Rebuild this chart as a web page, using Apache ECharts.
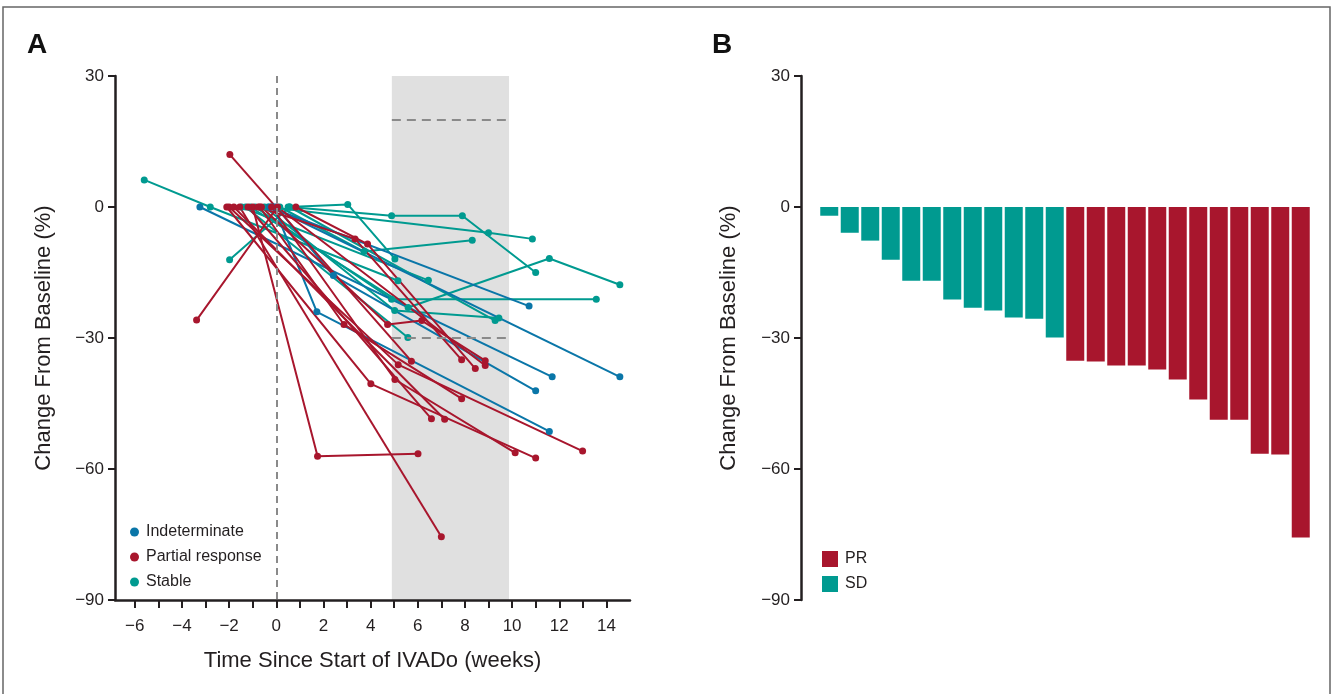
<!DOCTYPE html>
<html>
<head>
<meta charset="utf-8">
<script src="https://cdn.jsdelivr.net/npm/echarts@6.0.0/dist/echarts.min.js"></script>
<style>
html,body{margin:0;padding:0;background:#fff;}
#chart{width:1334px;height:694px;}
</style>
</head>
<body>
<div id="chart"></div>
<script>
// ---------- DATA ----------
// Panel A: each patient is a list of [week, % change from baseline]
const indeterminatePatients = [
  [[-3.24, 0], [11.7, -38.9]],
  [[-0.1, 0], [1.72, -24.0], [11.58, -51.4]],
  [[-0.3, 0], [10.72, -22.7]],
  [[-0.2, 0], [14.57, -38.9]],
  [[0.0, 0], [2.42, -15.7], [11.0, -42.1]]
];
const partialResponsePatients = [
  [[-1.0, 0], [1.75, -57.1], [6.01, -56.5]],
  [[-1.97, 12], [5.73, -35.3]],
  [[-1.55, 0], [7.0, -75.5]],
  [[-3.38, -25.9], [0.05, 0], [8.86, -36.3]],
  [[-0.7, 0], [2.87, -26.9], [7.86, -43.9]],
  [[-2.1, 0], [4.01, -40.5], [11.0, -57.5]],
  [[-0.2, 0], [5.03, -39.5], [10.13, -56.3]],
  [[-2.0, 0], [5.17, -36.1], [12.99, -55.9]],
  [[-0.77, 0], [3.34, -7.3], [7.86, -35.0]],
  [[0.83, 0], [3.87, -8.5], [8.44, -37.0]],
  [[-0.63, 0], [4.72, -26.9], [6.17, -26.0], [8.86, -35.2]],
  [[-1.2, 0], [6.58, -48.5]],
  [[-1.8, 0], [7.14, -48.6]]
];
const stablePatients = [
  [[-5.6, 6.2], [-2.8, 0], [5.16, -16.9]],
  [[-1.98, -12.1], [0.57, 0], [9.28, -26.0]],
  [[0.5, 0], [3.03, 0.6], [5.03, -11.9]],
  [[0.57, 0], [4.89, -2.0], [7.89, -2.0], [11.0, -15.0]],
  [[-0.35, 0], [9.0, -5.9], [10.86, -7.3]],
  [[0.15, 0], [3.72, -10.2], [8.31, -7.6]],
  [[-1.1, 0], [5.59, -23.0], [11.58, -11.8], [14.57, -17.8]],
  [[-0.9, 0], [4.89, -21.1], [13.57, -21.1]],
  [[-1.47, 0], [6.45, -16.8]],
  [[-0.5, 0], [5.02, -23.7], [9.44, -25.4]],
  [[-1.3, 0], [5.58, -29.9]]
];
const windowWeeks = [4.9, 9.87];        // shaded evaluation window
const thresholdLines = [20, -30];        // dashed reference levels
const xTickValues = [-6,-5,-4,-3,-2,-1,0,1,2,3,4,5,6,7,8,9,10,11,12,13,14];
const xLabelValues = [-6,-4,-2,0,2,4,6,8,10,12,14];

// Panel B: best response waterfall
const barCategories = ['1','2','3','4','5','6','7','8','9','10','11','12','13','14','15','16','17','18','19','20','21','22','23','24'];
const sdValues = [-2.0,-5.9,-7.7,-12.1,-16.9,-16.9,-21.2,-23.1,-23.7,-25.3,-25.6,-29.9,'-','-','-','-','-','-','-','-','-','-','-','-'];
const prValues = ['-','-','-','-','-','-','-','-','-','-','-','-',-35.2,-35.4,-36.3,-36.3,-37.2,-39.5,-44.1,-48.7,-48.7,-56.5,-56.7,-75.7];

// ---------- STYLE ----------
const BLUE = '#0a76a8', RED = '#a8162d', TEAL = '#009a90';
const INK = '#231f20';
const FONT = '"Liberation Sans", Arial, sans-serif';
const fmt = v => (v < 0 ? '\u2212' + Math.abs(v) : String(v));

const series = [];
// helper series for shaded window and dashed lines
series.push({
  type: 'line', xAxisIndex: 0, yAxisIndex: 0, data: [], silent: true, z: -1,
  markArea: {
    silent: true,
    itemStyle: { color: '#e0e0e0' },
    data: [[{ coord: [windowWeeks[0], 30] }, { coord: [windowWeeks[1], -90] }]]
  },
  markLine: {
    silent: true, symbol: 'none',
    label: { show: false },
    data: [
      [{ coord: [0, 30], lineStyle: { type: [7, 5], color: '#8a8a8a', width: 2 } }, { coord: [0, -90] }],
      [{ coord: [windowWeeks[0], thresholdLines[0]], lineStyle: { type: [9, 6], color: '#8a8a8a', width: 2 } }, { coord: [windowWeeks[1] - 0.1, thresholdLines[0]] }],
      [{ coord: [windowWeeks[0], thresholdLines[1]], lineStyle: { type: [9, 6], color: '#8a8a8a', width: 2 } }, { coord: [windowWeeks[1] - 0.1, thresholdLines[1]] }]
    ]
  }
});
function addGroup(list, name, color) {
  list.forEach(p => series.push({
    type: 'line', name: name, xAxisIndex: 0, yAxisIndex: 0, data: p,
    symbol: 'circle', symbolSize: 7, showSymbol: true,
    lineStyle: { color: color, width: 2 }, itemStyle: { color: color },
    emphasis: { disabled: true }, z: 3, animation: false
  }));
}
addGroup(stablePatients, 'Stable', TEAL);
addGroup(indeterminatePatients, 'Indeterminate', BLUE);
addGroup(partialResponsePatients, 'Partial response', RED);

series.push({
  type: 'bar', name: 'SD', xAxisIndex: 1, yAxisIndex: 1, stack: 'w', data: sdValues,
  barWidth: 18, itemStyle: { color: TEAL }, animation: false
});
series.push({
  type: 'bar', name: 'PR', xAxisIndex: 1, yAxisIndex: 1, stack: 'w', data: prValues,
  barWidth: 18, itemStyle: { color: RED }, animation: false
});

const yAxisCommon = {
  type: 'value', min: -90, max: 30, interval: 30,
  axisLine: { show: true, onZero: false, lineStyle: { color: INK, width: 2.5 } },
  axisTick: { show: true, inside: false, length: 7, lineStyle: { color: INK, width: 2 } },
  axisLabel: { formatter: fmt, color: INK, fontSize: 17, fontFamily: FONT, margin: 11 },
  splitLine: { show: false },
  name: 'Change From Baseline (%)', nameLocation: 'middle',
  nameTextStyle: { fontSize: 22, color: INK, fontFamily: FONT }
};

const option = {
  animation: false,
  backgroundColor: '#fff',
  title: [
    { text: 'A', left: 22, top: 26, textStyle: { fontSize: 28, fontWeight: 'bold', color: '#111', fontFamily: FONT } },
    { text: 'B', left: 707, top: 26, textStyle: { fontSize: 28, fontWeight: 'bold', color: '#111', fontFamily: FONT } }
  ],
  graphic: [
    { type: 'rect', shape: { x: 3, y: 7, width: 1327, height: 700 }, style: { fill: 'none', stroke: '#666', lineWidth: 1.5 }, silent: true, z: -10 }
  ],
  legend: [
    {
      data: ['Indeterminate', 'Partial response', 'Stable'],
      orient: 'vertical', left: 125, top: 519, itemGap: 9,
      icon: 'circle', itemWidth: 9, itemHeight: 9,
      textStyle: { fontSize: 16, color: INK, fontFamily: FONT, padding: [0, 0, 0, 2] },
      selectedMode: false
    },
    {
      data: ['PR', 'SD'],
      orient: 'vertical', left: 817, top: 546, itemGap: 9,
      icon: 'rect', itemWidth: 16, itemHeight: 16,
      textStyle: { fontSize: 16, color: INK, fontFamily: FONT, padding: [0, 0, 0, 2] },
      selectedMode: false
    }
  ],
  grid: [
    { left: 115, top: 76, width: 515, height: 524 },
    { left: 819, top: 76, width: 492, height: 524 }
  ],
  xAxis: [
    {
      type: 'value', gridIndex: 0, min: -6.84, max: 15, z: 5,
      axisLine: { show: true, onZero: false, lineStyle: { color: INK, width: 2.5 } },
      axisTick: { show: true, inside: false, length: 8, customValues: xTickValues, lineStyle: { color: INK, width: 2 } },
      axisLabel: { customValues: xLabelValues, formatter: fmt, color: INK, fontSize: 17, fontFamily: FONT, margin: 18 },
      splitLine: { show: false },
      name: 'Time Since Start of IVADo (weeks)', nameLocation: 'middle', nameGap: 50,
      nameTextStyle: { fontSize: 22, color: INK, fontFamily: FONT }
    },
    {
      type: 'category', gridIndex: 1, data: barCategories, show: false
    }
  ],
  yAxis: [
    Object.assign({}, yAxisCommon, { gridIndex: 0, nameGap: 60, z: 5 }),
    Object.assign({}, yAxisCommon, { gridIndex: 1, offset: 18, nameGap: 61 })
  ],
  series: series
};

const chart = echarts.init(document.getElementById('chart'), null, { renderer: 'canvas' });
chart.setOption(option);
</script>
</body>
</html>
